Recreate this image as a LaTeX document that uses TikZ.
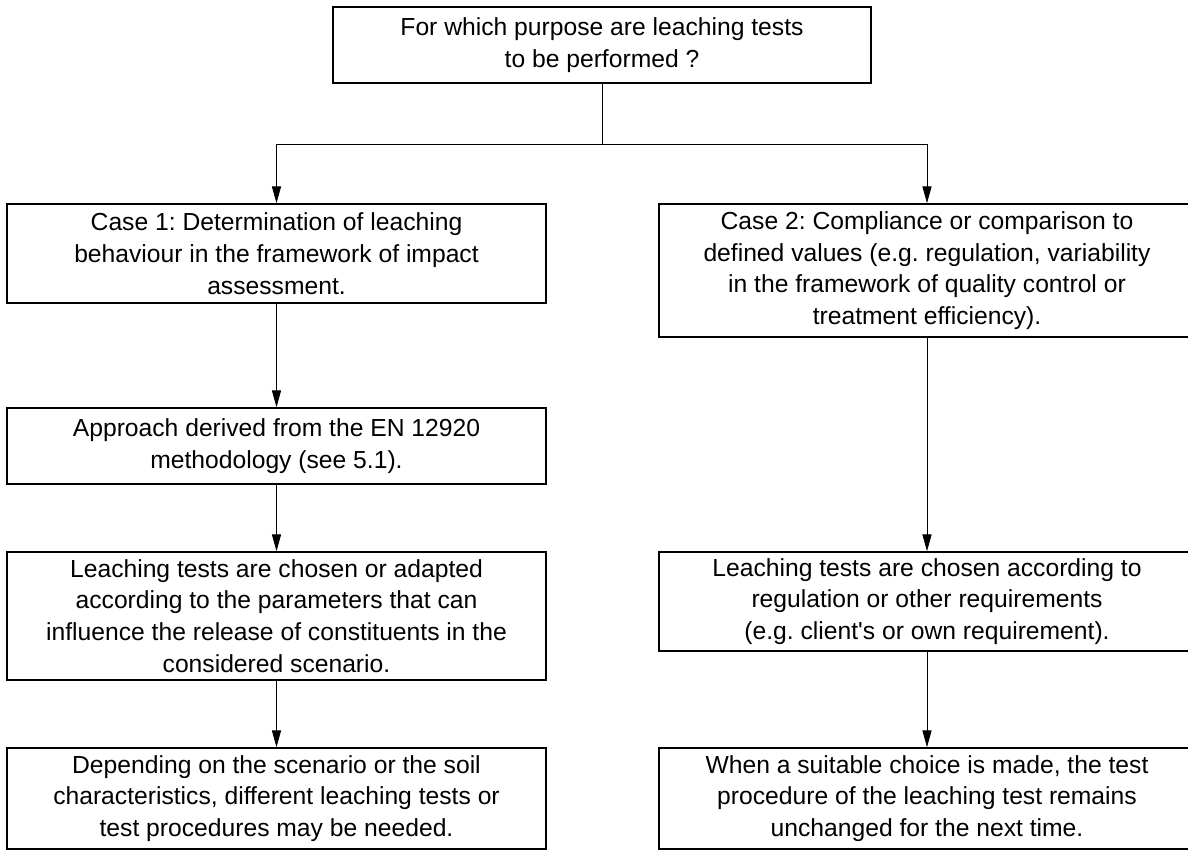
\documentclass[tikz,border=0pt]{standalone}
\usepackage{fontspec}
\setmainfont{Liberation Sans}
\usetikzlibrary{arrows.meta}
\frenchspacing
\begin{document}
\begin{tikzpicture}[x=0.75pt,y=-0.75pt,
  box/.style={draw, line width=1.3pt, rectangle, inner sep=0pt, align=center,
    font=\fontsize{18.5pt}{23.8pt}\selectfont},
  lbox/.style={box, minimum width=404.25pt},
  rbox/.style={box, minimum width=402pt},
  conn/.style={line width=0.6pt},
  arr/.style={conn, -{Triangle[length=12.5pt,width=6.8pt]}}]
\useasboundingbox (0,0) rectangle (1188,851);
\fill[white] (0,0) rectangle (1188,851);
\node[box, minimum width=403.5pt, minimum height=57pt] (top) at (602,45)
  {For which purpose are leaching tests\\to be performed ?};
\node[lbox, minimum height=74.25pt] (L1) at (276.5,253.5)
  {Case 1: Determination of leaching\\behaviour in the framework of impact\\assessment.};
\node[lbox, minimum height=57pt] (L2) at (276.5,446)
  {Approach derived from the EN 12920\\methodology (see 5.1).};
\node[lbox, minimum height=96pt] (L3) at (276.5,616)
  {Leaching tests are chosen or adapted\\according to the parameters that can\\influence the release of constituents in the\\considered scenario.};
\node[lbox, minimum height=75.75pt] (L4) at (276.5,798.5)
  {Depending on the scenario or the soil\\characteristics, different leaching tests or\\test procedures may be needed.};
\node[rbox, minimum height=99.75pt] (R1) at (927,270.5)
  {Case 2: Compliance or comparison to\\defined values (e.g. regulation, variability\\in the framework of quality control or\\treatment efficiency).};
\node[rbox, minimum height=74.25pt] (R3) at (927,601.5)
  {Leaching tests are chosen according to\\regulation or other requirements\\(e.g. client\textquotesingle s or own requirement).};
\node[rbox, minimum height=75.75pt] (R4) at (927,798.5)
  {When a suitable choice is made, the test\\procedure of the leaching test remains\\unchanged for the next time.};
\coordinate (j) at (602,144);
\draw[conn] (top.south) -- (j);
\draw[arr] (j) -| (L1.north);
\draw[arr] (j) -| (R1.north);
\draw[arr] (L1) -- (L2);
\draw[arr] (L2) -- (L3);
\draw[arr] (L3) -- (L4);
\draw[arr] (R1) -- (R3);
\draw[arr] (R3) -- (R4);
\end{tikzpicture}
\end{document}
